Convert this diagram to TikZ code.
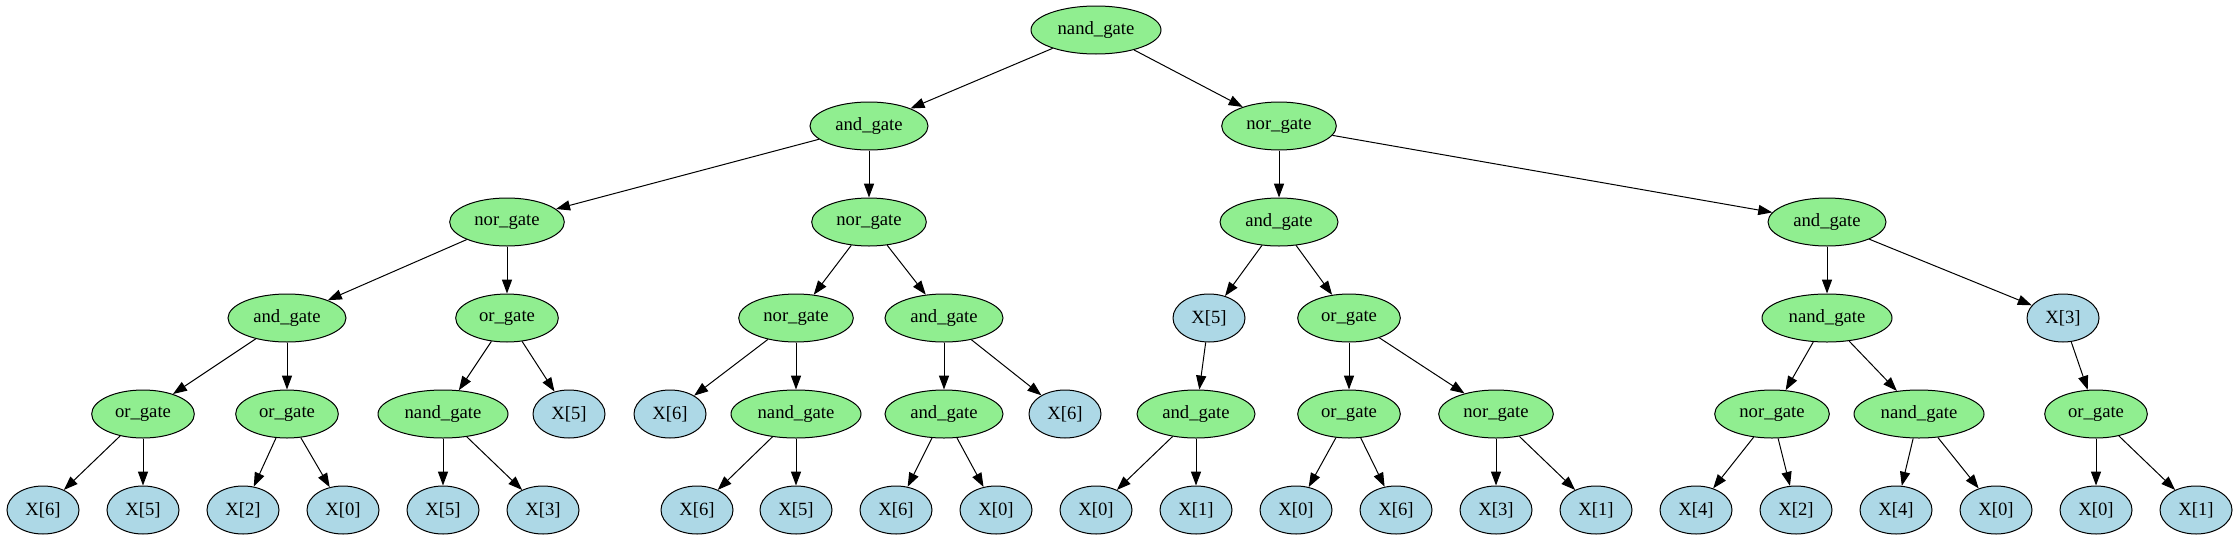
\documentclass[tikz,border=0pt]{standalone}
\usepackage{fontspec}
\setmainfont{Liberation Serif}
\usetikzlibrary{shapes.geometric,arrows.meta}
\definecolor{lgreen}{HTML}{90EE90}
\definecolor{lblue}{HTML}{ADD8E6}
\tikzset{
  base/.style={ellipse, draw=black, line width=0.75pt, inner sep=0pt, minimum height=36pt,
    font=\rmfamily\fontsize{14pt}{16pt}\selectfont},
  nandg/.style={base, fill=lgreen, minimum width=97.5pt},
  andg/.style={base, fill=lgreen, minimum width=88.5pt},
  norg/.style={base, fill=lgreen, minimum width=86pt},
  org/.style={base, fill=lgreen, minimum width=77pt},
  xleaf/.style={base, fill=lblue, minimum width=54pt},
  edge/.style={line width=0.75pt, -{Triangle[length=10.5pt,width=7.6pt]}}
}
\begin{document}
\begin{tikzpicture}[x=0.75pt,y=-0.75pt]
\useasboundingbox (0,0) rectangle (2240,539);
% level 0
\node[nandg] (n0) at (1096,30) {nand\_gate};
% level 1
\node[andg] (a1) at (869,126) {and\_gate};
\node[norg] (b1) at (1279,126) {nor\_gate};
% level 2
\node[norg] (c1) at (507,222) {nor\_gate};
\node[norg] (c2) at (869,222) {nor\_gate};
\node[andg] (c3) at (1279,222) {and\_gate};
\node[andg] (c4) at (1827,222) {and\_gate};
% level 3
\node[andg] (d1) at (287,318) {and\_gate};
\node[org] (d2) at (507,318) {or\_gate};
\node[norg] (d3) at (796,318) {nor\_gate};
\node[andg] (d4) at (944,318) {and\_gate};
\node[xleaf] (d5) at (1209,318) {X[5]};
\node[org] (d6) at (1349,318) {or\_gate};
\node[nandg] (d7) at (1827,318) {nand\_gate};
\node[xleaf] (d8) at (2063,318) {X[3]};
% level 4
\node[org] (e1) at (143,414) {or\_gate};
\node[org] (e2) at (287,414) {or\_gate};
\node[nandg] (e3) at (443,414) {nand\_gate};
\node[xleaf] (e4) at (569,414) {X[5]};
\node[xleaf] (e5) at (670,414) {X[6]};
\node[nandg] (e6) at (796,414) {nand\_gate};
\node[andg] (e7) at (944,414) {and\_gate};
\node[xleaf] (e8) at (1065,414) {X[6]};
\node[andg] (e9) at (1196,414) {and\_gate};
\node[org] (e10) at (1349,414) {or\_gate};
\node[norg] (e11) at (1496,414) {nor\_gate};
\node[norg] (e12) at (1772,414) {nor\_gate};
\node[nandg] (e13) at (1919,414) {nand\_gate};
\node[org] (e14) at (2096,414) {or\_gate};
% level 5
\node[xleaf] (f1) at (43,510) {X[6]};
\node[xleaf] (f2) at (143,510) {X[5]};
\node[xleaf] (f3) at (243,510) {X[2]};
\node[xleaf] (f4) at (343,510) {X[0]};
\node[xleaf] (f5) at (443,510) {X[5]};
\node[xleaf] (f6) at (543,510) {X[3]};
\node[xleaf] (f7) at (697,510) {X[6]};
\node[xleaf] (f8) at (796,510) {X[5]};
\node[xleaf] (f9) at (896,510) {X[6]};
\node[xleaf] (f10) at (996,510) {X[0]};
\node[xleaf] (f11) at (1096,510) {X[0]};
\node[xleaf] (f12) at (1196,510) {X[1]};
\node[xleaf] (f13) at (1296,510) {X[0]};
\node[xleaf] (f14) at (1396,510) {X[6]};
\node[xleaf] (f15) at (1496,510) {X[3]};
\node[xleaf] (f16) at (1596,510) {X[1]};
\node[xleaf] (f17) at (1696,510) {X[4]};
\node[xleaf] (f18) at (1796,510) {X[2]};
\node[xleaf] (f19) at (1896,510) {X[4]};
\node[xleaf] (f20) at (1996,510) {X[0]};
\node[xleaf] (f21) at (2096,510) {X[0]};
\node[xleaf] (f22) at (2196,510) {X[1]};
% edges
\foreach \p/\c in {n0/a1,n0/b1,a1/c1,a1/c2,b1/c3,b1/c4,
  c1/d1,c1/d2,c2/d3,c2/d4,c3/d5,c3/d6,c4/d7,c4/d8,
  d1/e1,d1/e2,d2/e3,d2/e4,d3/e5,d3/e6,d4/e7,d4/e8,d5/e9,d6/e10,d6/e11,d7/e12,d7/e13,d8/e14,
  e1/f1,e1/f2,e2/f3,e2/f4,e3/f5,e3/f6,e6/f7,e6/f8,e7/f9,e7/f10,e9/f11,e9/f12,
  e10/f13,e10/f14,e11/f15,e11/f16,e12/f17,e12/f18,e13/f19,e13/f20,e14/f21,e14/f22}
  \draw[edge] (\p) -- (\c);
\end{tikzpicture}
\end{document}
